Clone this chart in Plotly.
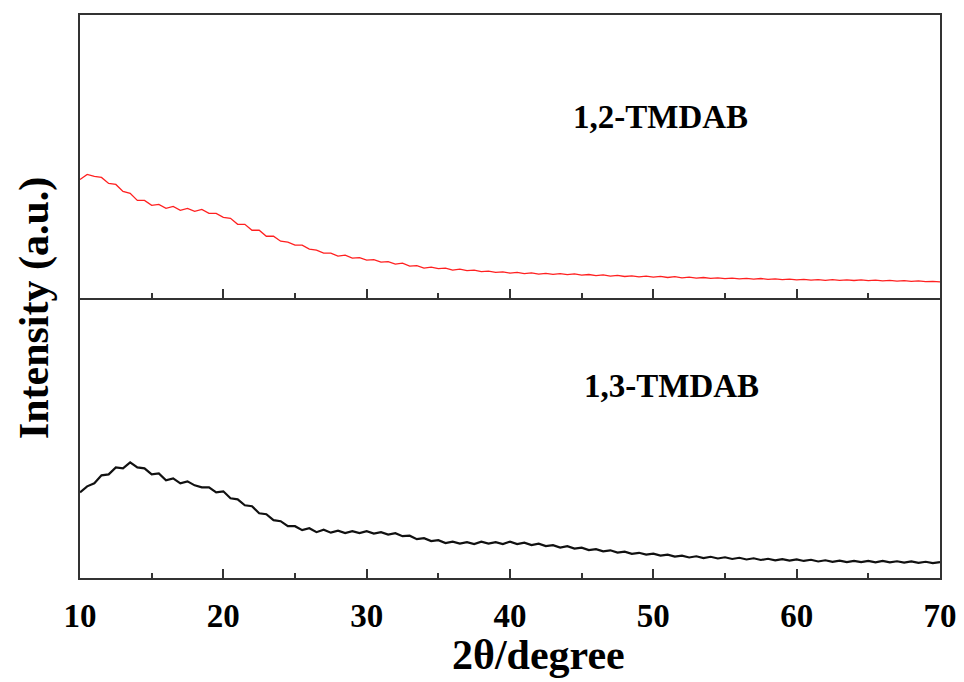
import plotly.graph_objects as go
from plotly.subplots import make_subplots

# 2-theta grid (degrees)
two_theta = [10, 10.5, 11, 11.5, 12, 12.5, 13, 13.5, 14, 14.5, 15, 15.5, 16, 16.5, 17, 17.5,
             18, 18.5, 19, 19.5, 20, 20.5, 21, 21.5, 22, 22.5, 23, 23.5, 24, 24.5, 25, 25.5,
             26, 26.5, 27, 27.5, 28, 28.5, 29, 29.5, 30, 30.5, 31, 31.5, 32, 32.5, 33, 33.5,
             34, 34.5, 35, 35.5, 36, 36.5, 37, 37.5, 38, 38.5, 39, 39.5, 40, 40.5, 41, 41.5,
             42, 42.5, 43, 43.5, 44, 44.5, 45, 45.5, 46, 46.5, 47, 47.5, 48, 48.5, 49, 49.5,
             50, 50.5, 51, 51.5, 52, 52.5, 53, 53.5, 54, 54.5, 55, 55.5, 56, 56.5, 57, 57.5,
             58, 58.5, 59, 59.5, 60, 60.5, 61, 61.5, 62, 62.5, 63, 63.5, 64, 64.5, 65, 65.5,
             66, 66.5, 67, 67.5, 68, 68.5, 69, 69.5, 70]

# 1,2-TMDAB intensity (a.u.)
tmdab_12 = [119, 124, 122, 121, 115, 114, 107, 105, 98, 98, 93, 94, 90, 92, 88, 90,
            87, 89, 85, 85, 81, 80, 74, 74, 68, 68, 62, 62, 57, 56, 53, 53,
            49, 48, 45, 45, 42, 43, 40, 40.5, 38, 38.5, 36, 36.5, 34, 35, 32, 32.5,
            30, 31, 29.5, 30, 28, 29, 27.5, 28, 26.5, 27, 25.8, 26.3, 25, 25.8, 24.5, 25.2,
            24, 24.8, 23.7, 24.5, 23.5, 24.2, 23, 23.6, 22.5, 23.2, 22, 22.8, 21.6, 22.3, 21.2, 22,
            21, 21.7, 20.6, 21.4, 20.2, 20.9, 19.9, 20.6, 19.7, 20.3, 19.4, 20, 19.2, 19.8, 18.9, 19.6,
            18.7, 19.3, 18.4, 19, 18.2, 18.8, 18, 18.5, 17.8, 18.4, 17.7, 18.3, 17.6, 18.2, 17.4, 17.9,
            17.2, 17.7, 17, 17.4, 16.8, 17.2, 16.5, 16.8, 16.3]

# 1,3-TMDAB intensity (a.u.)
tmdab_13 = [86, 92, 95, 103, 104, 111, 110, 116, 111, 110, 104, 105, 98, 100, 95, 97,
            93, 91, 91, 86, 87, 80, 79, 73, 72, 65, 64, 58, 57, 52, 52, 48,
            50, 46, 48.5, 45.5, 47.5, 45, 47, 45, 47, 44.5, 46, 43.5, 45, 42, 42.5, 39,
            40, 37, 38, 35, 36.5, 34.5, 36, 34, 36.5, 34.5, 36, 34, 36.5, 34, 35.5, 33,
            34.5, 32, 33, 30.5, 32, 29.5, 30.5, 28, 29, 26.8, 27.8, 25.5, 26.5, 24.3, 25.3, 23.4,
            24.4, 22.4, 23.4, 21.4, 22.4, 20.6, 21.8, 20, 21.3, 19.6, 20.8, 19.1, 20.3, 18.6, 19.8, 18.1,
            19.3, 17.8, 19, 17.5, 18.7, 17.1, 18.3, 16.6, 17.8, 16.3, 17.4, 16, 17.2, 15.9, 17.1, 15.8,
            17.1, 15.7, 16.8, 15.5, 16.6, 15.2, 16.3, 15, 16]

x_ticks = [10, 20, 30, 40, 50, 60, 70]
labels = ["1,2-TMDAB", "1,3-TMDAB"]

FONT = "Liberation Serif"
FRAME = "#333333"

fig = make_subplots(rows=2, cols=1, shared_xaxes=True, vertical_spacing=0,
                    row_heights=[0.5027, 0.4973])

fig.add_trace(go.Scatter(x=two_theta, y=tmdab_12, mode="lines",
                         line=dict(color="#ff2020", width=1.3), showlegend=False), row=1, col=1)
fig.add_trace(go.Scatter(x=two_theta, y=tmdab_13, mode="lines",
                         line=dict(color="#111111", width=2.2), showlegend=False), row=2, col=1)

common_x = dict(range=[10, 70], showline=True, linecolor=FRAME, linewidth=2,
                ticks="inside", tickvals=x_ticks, ticklen=9, tickwidth=2, tickcolor=FRAME,
                minor=dict(dtick=5, tick0=10, ticks="inside", ticklen=5, tickwidth=1.5, tickcolor=FRAME),
                showgrid=False, zeroline=False)
fig.update_xaxes(**common_x)
fig.update_xaxes(showticklabels=False, mirror=True, row=1, col=1)
fig.update_xaxes(showticklabels=True, mirror=False,
                 tickfont=dict(family=FONT, size=33, color="black", weight="bold"),
                 ticklabelstandoff=7, row=2, col=1)

common_y = dict(showline=True, linecolor=FRAME, linewidth=2, mirror=True, ticks="",
                showticklabels=False, showgrid=False, zeroline=False)
fig.update_yaxes(**common_y)
fig.update_yaxes(range=[0, 284], row=1, col=1)
fig.update_yaxes(range=[0, 281], row=2, col=1)

fig.add_annotation(x=50.5, y=182, xref="x", yref="y", text="<b>" + labels[0] + "</b>",
                   showarrow=False, font=dict(family=FONT, size=33, color="black"))
fig.add_annotation(x=51.3, y=193, xref="x2", yref="y2", text="<b>" + labels[1] + "</b>",
                   showarrow=False, font=dict(family=FONT, size=33, color="black"))

fig.add_annotation(x=42, y=-0.137, xref="x2", yref="paper", text="<b>2θ/degree</b>",
                   showarrow=False, font=dict(family=FONT, size=42, color="black"),
                   xanchor="center", yanchor="middle")
fig.add_annotation(x=-0.0535, y=0.481, xref="paper", yref="paper", text="<b>Intensity (a.u.)</b>",
                   showarrow=False, textangle=-90, font=dict(family=FONT, size=42, color="black"),
                   xanchor="center", yanchor="middle")

# page body has an 8px default margin, so the figure is sized to fit inside the window
fig.update_layout(width=956, height=674, margin=dict(l=72, r=24, t=5, b=104),
                  plot_bgcolor="white", paper_bgcolor="white")

fig.write_html("out.html")
